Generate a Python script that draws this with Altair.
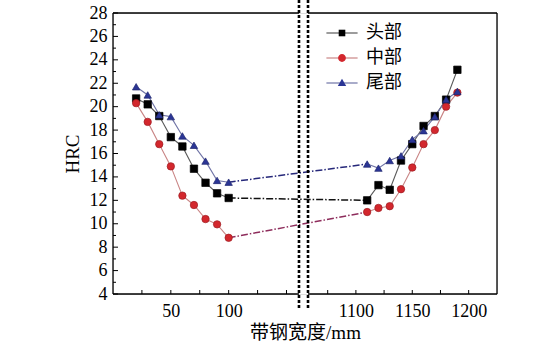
import altair as alt
import pandas as pd

# ---------------- data ----------------
series = ["头部", "中部", "尾部"]
x_left = [20, 30, 40, 50, 60, 70, 80, 90, 100]
x_right = [1110, 1120, 1130, 1140, 1150, 1160, 1170, 1180, 1190]

head_left = [20.7, 20.2, 19.2, 17.4, 16.6, 14.7, 13.5, 12.6, 12.2]
head_right = [12.0, 13.3, 12.9, 15.4, 16.8, 18.35, 19.2, 20.6, 23.15]
mid_left = [20.3, 18.7, 16.8, 14.9, 12.4, 11.6, 10.4, 9.95, 8.8]
mid_right = [11.0, 11.35, 11.5, 12.95, 14.8, 16.8, 18.0, 20.0, 21.2]
tail_left = [21.7, 21.0, 19.3, 19.15, 17.5, 16.7, 15.35, 13.7, 13.55]
tail_right = [15.1, 14.75, 15.4, 15.8, 17.2, 17.95, 19.15, 20.6, 21.3]

y_major = [4, 6, 8, 10, 12, 14, 16, 18, 20, 22, 24, 26, 28]
y_minor = [5, 7, 9, 11, 13, 15, 17, 19, 21, 23, 25, 27]
x_ticks = [25, 50, 75, 100, 125, 150, 1075, 1100, 1125, 1150, 1175, 1200]
x_labels = [50, 100, 1100, 1150, 1200]

marker_colors = ["#000000", "#d3272d", "#2b3595"]
marker_edges = ["#000000", "#9e1d22", "#1f2670"]
line_colors = ["#5a5a5a", "#c98585", "#7074a6"]
conn_colors = ["#111111", "#8e2d5c", "#26287a"]

# broken x axis: left part 0..~161 mm, right part ~1057..1222 mm
RIGHT_START = 1100
RIGHT_AT = 210
RIGHT_K = 0.975
X_DOMAIN = [0, 332]
Y_DOMAIN = [4, 28]
BREAKS = [160.8, 168.6]


def disp(x):
    return x if x < 500 else RIGHT_AT + (x - RIGHT_START) * RIGHT_K


disp_expr = f"datum.x < 500 ? datum.x : {RIGHT_AT} + (datum.x - {RIGHT_START}) * {RIGHT_K}"

rows = []
for s, lv, rv in zip(series, [head_left, mid_left, tail_left], [head_right, mid_right, tail_right]):
    for x, v in zip(x_left, lv):
        rows.append({"series": s, "x": x, "hrc": v, "seg": "L"})
    for x, v in zip(x_right, rv):
        rows.append({"series": s, "x": x, "hrc": v, "seg": "R"})
df = pd.DataFrame(rows)

SERIF = "'Liberation Serif', 'Noto Sans CJK SC'"
W, H = 384, 281

xs = alt.Scale(domain=X_DOMAIN, nice=False, zero=False)
ys = alt.Scale(domain=Y_DOMAIN, nice=False, zero=False)

label_map = " : ".join(
    [f"abs(datum.value - {disp(v)}) < 0.01 ? '{v}'" for v in x_labels]
) + " : ''"

x_axis = alt.Axis(
    values=[disp(v) for v in x_labels], labelExpr=label_map, ticks=False, tickSize=0,
    domain=False, grid=False, labelFont=SERIF, labelFontSize=18, labelColor="black",
    labelPadding=8, title="带钢宽度/mm", titleFont=SERIF, titleFontSize=19,
    titleFontWeight="normal", titleColor="black", titlePadding=3,
)
y_axis = alt.Axis(
    values=y_major, ticks=False, tickSize=0, domain=False, grid=False, labelFont=SERIF,
    labelFontSize=18, labelColor="black", labelPadding=6, title="HRC", titleFont=SERIF,
    titleFontSize=19, titleFontWeight="normal", titleColor="black", titlePadding=7,
)


def X(field="d"):
    return alt.X(f"{field}:Q", scale=xs, axis=x_axis)


def Y(field="hrc"):
    return alt.Y(f"{field}:Q", scale=ys, axis=y_axis)


base = alt.Chart(df).transform_calculate(d=disp_expr)

lines = base.mark_line(strokeWidth=1.1).encode(
    x=X(), y=Y(),
    color=alt.Color("series:N", scale=alt.Scale(domain=series, range=line_colors), legend=None),
    detail="seg:N",
)

connectors = base.transform_filter("datum.x == 100 || datum.x == 1110").mark_line(
    strokeWidth=1.5, strokeDash=[7, 2, 1.5, 2]
).encode(
    x=X(), y=Y(),
    color=alt.Color("series:N", scale=alt.Scale(domain=series, range=conn_colors), legend=None),
)

points = base.mark_point(filled=True, size=55, strokeWidth=0.7, opacity=1).encode(
    x=X(), y=Y(),
    fill=alt.Fill("series:N", scale=alt.Scale(domain=series, range=marker_colors), legend=None),
    stroke=alt.Stroke("series:N", scale=alt.Scale(domain=series, range=marker_edges), legend=None),
    shape=alt.Shape("series:N", scale=alt.Scale(domain=series, range=["square", "circle", "triangle-up"]), legend=None),
)

# legend: a line-stub legend underneath and a marker legend on top, same place
LEG_X, LEG_Y = 220, 11
LEG_ROW = 7
LEG_FONT = 18
stub = "M-2.6,0H2.6"
stub_legend = alt.Legend(
    title=None, orient="none", legendX=LEG_X, legendY=LEG_Y, padding=0, symbolSize=144,
    symbolType=stub, labelFont="'Noto Sans CJK SC'", labelFontSize=LEG_FONT,
    labelColor="rgba(0,0,0,0)", labelOffset=15, rowPadding=LEG_ROW, symbolStrokeWidth=1.2,
)
stub_carrier = alt.Chart(df).transform_filter("false").mark_point(
    filled=False, size=144, strokeWidth=1.2, opacity=1, shape=stub
).encode(
    color=alt.Color("series:N", scale=alt.Scale(domain=series, range=line_colors), legend=stub_legend),
)

mark_legend = alt.Legend(
    title=None, orient="none", legendX=LEG_X, legendY=LEG_Y, padding=0, symbolSize=144,
    labelFont="'Noto Sans CJK SC'", labelFontSize=LEG_FONT, labelColor="black",
    labelOffset=15, rowPadding=LEG_ROW, symbolStrokeWidth=0,
)
mark_carrier = alt.Chart(df).transform_filter("false").mark_point(
    filled=True, size=144, opacity=1
).encode(
    fill=alt.Fill("series:N", scale=alt.Scale(domain=series, range=marker_colors), legend=mark_legend),
    shape=alt.Shape(
        "series:N",
        scale=alt.Scale(domain=series, range=[
            "M-0.55,-0.55H0.55V0.55H-0.55Z",
            "M-0.65,0A0.65,0.65 0 1,1 0.65,0A0.65,0.65 0 1,1 -0.65,0Z",
            "M0,-0.7L0.7,0.5H-0.7Z",
        ]),
        legend=mark_legend,
    ),
)

# frame with a gap at the axis break
frame_df = pd.DataFrame({
    "d": [X_DOMAIN[0], X_DOMAIN[1], X_DOMAIN[0], BREAKS[1], X_DOMAIN[0], BREAKS[1]],
    "d2": [X_DOMAIN[0], X_DOMAIN[1], BREAKS[0], X_DOMAIN[1], BREAKS[0], X_DOMAIN[1]],
    "hrc": [Y_DOMAIN[0], Y_DOMAIN[0], Y_DOMAIN[0], Y_DOMAIN[0], Y_DOMAIN[1], Y_DOMAIN[1]],
    "hrc2": [Y_DOMAIN[1], Y_DOMAIN[1], Y_DOMAIN[0], Y_DOMAIN[0], Y_DOMAIN[1], Y_DOMAIN[1]],
})
frame = alt.Chart(frame_df).mark_rule(color="black", strokeWidth=1.3).encode(
    x=X(), x2="d2:Q", y=Y(), y2="hrc2:Q"
)

break_df = pd.DataFrame({"d": BREAKS})
breaks = alt.Chart(break_df).mark_rule(color="black", strokeWidth=2.6, strokeDash=[3, 2]).encode(
    x=X(), y=alt.value(-13), y2=alt.value(H + 16)
)

# inward ticks
xt_df = pd.DataFrame({"d": [disp(v) for v in x_ticks]})
x_tick_marks = alt.Chart(xt_df).mark_rule(color="black", strokeWidth=1).encode(
    x=X(), y=alt.value(H), y2=alt.value(H - 4)
)
ymaj_df = pd.DataFrame({"hrc": y_major})
ymin_df = pd.DataFrame({"hrc": y_minor})
y_major_marks = alt.Chart(ymaj_df).mark_rule(color="black", strokeWidth=1).encode(
    y=Y(), x=alt.value(0), x2=alt.value(5)
)
y_minor_marks = alt.Chart(ymin_df).mark_rule(color="black", strokeWidth=1).encode(
    y=Y(), x=alt.value(0), x2=alt.value(3)
)

chart = alt.layer(
    lines, connectors, points, frame, x_tick_marks, y_major_marks, y_minor_marks, breaks,
    stub_carrier, mark_carrier
).resolve_scale(
    color="independent", fill="independent", stroke="independent", shape="independent"
).properties(
    width=W, height=H,
    autosize=alt.AutoSizeParams(type="none"),
    padding={"left": 113, "top": 13, "right": 63, "bottom": 52},
).configure_view(stroke=None).configure(background="white")

chart.save("out.html", embed_options={"renderer": "svg", "actions": False})
